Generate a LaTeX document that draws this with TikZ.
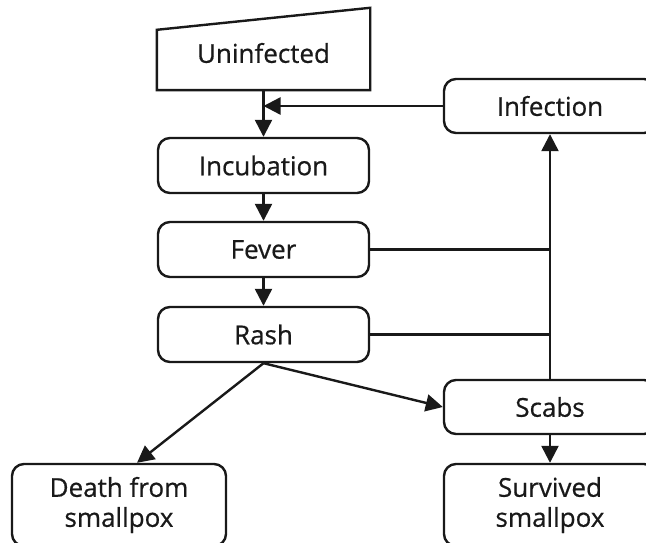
\documentclass[tikz,border=0pt]{standalone}
\usepackage{fontspec}
\setmainfont{Open Sans}[FakeBold=0.6]
\usetikzlibrary{arrows.meta,calc}
\begin{document}
\begin{tikzpicture}[x=1pt,y=-1pt,
  every node/.style={font=\fontsize{26}{30}\selectfont, text=black!90},
  box/.style={draw=black!90, line width=2.4pt, rounded corners=12pt, inner sep=0pt, align=center},
  arr/.style={draw=black!90, line width=2.4pt, -{Triangle[length=17pt,width=17pt]}},
  ln/.style={draw=black!90, line width=2.4pt}
]
\useasboundingbox (0,0) rectangle (646,543);
% nodes
\node[inner sep=0pt, minimum width=213pt, minimum height=82pt] (unin) at (263.5,49) {};
\node at (263.5,53) (unintext) {Uninfected};
\draw[ln, line join=miter] (unin.south west) -- (unin.south east) -- (unin.north east) -- ($(unin.north west)+(0,22)$) -- cycle;
\node[box, minimum width=211pt, minimum height=55pt] (incub) at (263.5,165.5) {Incubation};
\node[box, minimum width=211pt, minimum height=55pt] (fever) at (263.5,249.5) {Fever};
\node[box, minimum width=211pt, minimum height=55pt] (rash) at (263.5,334.5) {Rash};
\node[box, minimum width=212pt, minimum height=54pt] (infect) at (550,106) {Infection};
\node[box, minimum width=212pt, minimum height=54pt] (scabs) at (550,407) {Scabs};
\node[box, minimum width=212pt, minimum height=82pt] (surv) at (550,505) {Survived\\smallpox};
\node[box, minimum width=214pt, minimum height=82pt] (death) at (119,505) {Death from\\smallpox};
% connectors
\coordinate (j1) at (unin.south |- infect.west);
\draw[arr] (unin.south) -- (incub.north);
\draw[arr] (infect.west) -- (j1);
\draw[arr] (incub.south) -- (fever.north);
\draw[arr] (fever.south) -- (rash.north);
\draw[arr] (scabs.north) -- (infect.south);
\draw[ln] (fever.east) -- (fever.east -| scabs.north);
\draw[ln] (rash.east) -- (rash.east -| scabs.north);
\draw[arr] (rash.south) -- ([xshift=18pt]death.north);
\draw[arr] (rash.south) -- (scabs.west);
\draw[arr] (scabs.south) -- (surv.north);
\end{tikzpicture}
\end{document}
